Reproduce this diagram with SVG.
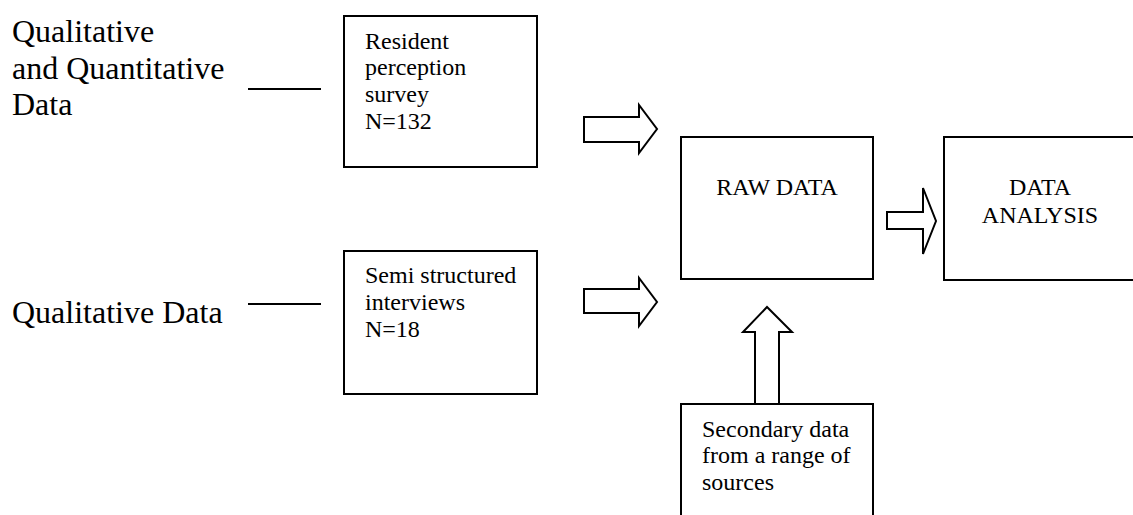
<svg xmlns="http://www.w3.org/2000/svg" width="1133" height="515" viewBox="0 0 1133 515">
<style>
.box{fill:#fff;stroke:#000;stroke-width:2}
.arr{fill:#fff;stroke:#000;stroke-width:2;stroke-linejoin:miter}
.t{font-family:"Liberation Serif","Times New Roman",serif;fill:#000}
.big{font-size:32px}
.sm{font-size:24px}
</style>
<rect width="1133" height="515" fill="#fff"/>
<g id="label-qq"><text class="t big" x="12" y="42">Qualitative</text><text class="t big" x="12" y="79">and Quantitative</text><text class="t big" x="12" y="115">Data</text></g>
<g id="label-q"><text class="t big" x="12" y="323">Qualitative Data</text></g>
<g id="survey"><rect class="box" x="344" y="16" width="193" height="151"/><text class="t sm" x="365" y="49">Resident</text><text class="t sm" x="365" y="75">perception</text><text class="t sm" x="365" y="102">survey</text><text class="t sm" x="365" y="129">N=132</text></g>
<g id="interviews"><rect class="box" x="344" y="251" width="193" height="143"/><text class="t sm" x="365" y="283">Semi structured</text><text class="t sm" x="365" y="310">interviews</text><text class="t sm" x="365" y="337">N=18</text></g>
<g id="raw"><rect class="box" x="681" y="137" width="192" height="142"/><text class="t sm" x="777" y="195" text-anchor="middle">RAW DATA</text></g>
<g id="analysis"><rect class="box" x="944" y="137" width="200" height="143"/><text class="t sm" x="1040" y="195" text-anchor="middle">DATA</text><text class="t sm" x="1040" y="223" text-anchor="middle">ANALYSIS</text></g>
<g id="secondary"><rect class="box" x="681" y="404" width="192" height="130"/><text class="t sm" x="702" y="437">Secondary data</text><text class="t sm" x="702" y="463">from a range of</text><text class="t sm" x="702" y="490">sources</text></g>
<g id="connectors">
<line x1="248" y1="89" x2="321" y2="89" stroke="#000" stroke-width="2"/>
<line x1="248" y1="304" x2="321" y2="304" stroke="#000" stroke-width="2"/>
<path class="arr" d="M584,117 H639 V105 L657,129 L639,153 V142 H584 Z"/>
<path class="arr" d="M584,289 H639 V278 L657,302 L639,326 V313 H584 Z"/>
<path class="arr" d="M887,212 H923 V188 L936,221 L923,254 V229 H887 Z"/>
<path class="arr" d="M755,404 V332 H743 L767,307 L792,332 H779 V404 Z"/>
</g>
</svg>
